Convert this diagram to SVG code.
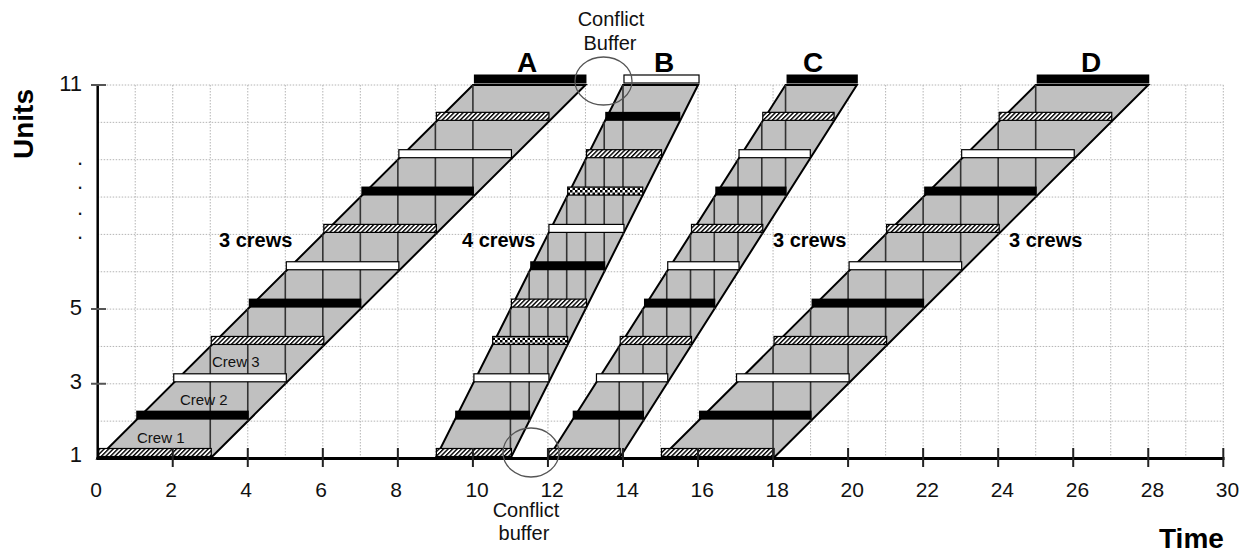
<svg xmlns="http://www.w3.org/2000/svg" width="1254" height="552" viewBox="0 0 1254 552">
<defs>
<pattern id="hatch" patternUnits="userSpaceOnUse" width="3.2" height="3.2" patternTransform="rotate(45)">
<rect width="3.2" height="3.2" fill="#fff"/>
<rect width="1.4" height="3.2" fill="#000"/>
</pattern>
<pattern id="check" patternUnits="userSpaceOnUse" width="5" height="5">
<rect width="5" height="5" fill="#fff"/>
<rect x="0" y="0" width="2.5" height="2.5" fill="#000"/>
<rect x="2.5" y="2.5" width="2.5" height="2.5" fill="#000"/>
</pattern>
<style>
.grid{fill:none;stroke:#b4b4b4;stroke-width:1;stroke-dasharray:1.5 1.5}
.pg{fill:#c0c0c0;stroke:#000;stroke-width:2;stroke-linejoin:miter}
.vl{fill:none;stroke:#333;stroke-width:1.6}
.h{fill:url(#hatch);stroke:#000;stroke-width:1.2}
.c{fill:url(#check);stroke:#000;stroke-width:1.2}
.w{fill:#fff;stroke:#000;stroke-width:1.2}
.b{fill:#000}
.ax{fill:none;stroke:#000;stroke-linecap:butt}
.tk{fill:none;stroke:#222;stroke-width:2}
.ytk{fill:none;stroke:#555;stroke-width:2}
.num{font-family:"Liberation Sans",Arial,sans-serif;font-size:21px;fill:#111}
.ynum{font-family:"Liberation Sans",Arial,sans-serif;font-size:22px;fill:#111}
.big{font-family:"Liberation Sans",Arial,sans-serif;font-size:28px;font-weight:bold;fill:#000}
.crews{font-family:"Liberation Sans",Arial,sans-serif;font-size:20px;font-weight:bold;fill:#000}
.crew{font-family:"Liberation Sans",Arial,sans-serif;font-size:15px;fill:#111}
.note{font-family:"Liberation Sans",Arial,sans-serif;font-size:20px;fill:#111}
.circ{fill:none;stroke:#555;stroke-width:1.3}
</style>
</defs>
<rect width="1254" height="552" fill="#fff"/>

<g id="grid">
<path class="grid" d="M135.22 85V458.5M172.74 85V458.5M210.26 85V458.5M247.78 85V458.5M285.3 85V458.5M322.82 85V458.5M360.34 85V458.5M397.86 85V458.5M435.38 85V458.5M472.9 85V458.5M510.42 85V458.5M547.94 85V458.5M585.46 85V458.5M622.98 85V458.5M660.5 85V458.5M698.02 85V458.5M735.54 85V458.5M773.06 85V458.5M810.58 85V458.5M848.1 85V458.5M885.62 85V458.5M923.14 85V458.5M960.66 85V458.5M998.18 85V458.5M1035.7 85V458.5M1073.22 85V458.5M1110.74 85V458.5M1148.26 85V458.5M1185.78 85V458.5M1223.3 85V458.5"/>
<path class="grid" d="M97.7 421.15H1223.3M97.7 383.8H1223.3M97.7 346.45H1223.3M97.7 309.1H1223.3M97.7 271.75H1223.3M97.7 234.4H1223.3M97.7 197.05H1223.3M97.7 159.7H1223.3M97.7 122.35H1223.3M97.7 85H1223.3"/>
</g>

<g id="activity-A">
<polygon class="pg" points="97.7,458.5 210.26,458.5 585.46,85 472.9,85"/>
<path class="vl" d="M210.26 458.5V346.45M247.78 421.15V309.1M285.3 383.8V271.75M322.82 346.45V234.4M360.34 309.1V197.05M397.86 271.75V159.7M435.38 234.4V122.35M472.9 197.05V85"/>
<rect class="h" x="98.7" y="448.5" width="112.56" height="8"/>
<rect class="b" x="136.22" y="410.65" width="112.56" height="9"/>
<rect class="w" x="173.74" y="373.8" width="112.56" height="8"/>
<rect class="h" x="211.26" y="336.45" width="112.56" height="8"/>
<rect class="b" x="248.78" y="298.6" width="112.56" height="9"/>
<rect class="w" x="286.3" y="261.75" width="112.56" height="8"/>
<rect class="h" x="323.82" y="224.4" width="112.56" height="8"/>
<rect class="b" x="361.34" y="186.55" width="112.56" height="9"/>
<rect class="w" x="398.86" y="149.7" width="112.56" height="8"/>
<rect class="h" x="436.38" y="112.35" width="112.56" height="8"/>
<rect class="b" x="473.9" y="74.5" width="112.56" height="9"/>
</g>

<g id="activity-B">
<polygon class="pg" points="435.38,458.5 510.42,458.5 698.02,85 622.98,85"/>
<path class="vl" d="M510.42 458.5V309.1M529.18 421.15V271.75M547.94 383.8V234.4M566.7 346.45V197.05M585.46 309.1V159.7M604.22 271.75V122.35M622.98 234.4V85"/>
<rect class="h" x="436.38" y="448.5" width="75.04" height="8"/>
<rect class="b" x="455.14" y="410.65" width="75.04" height="9"/>
<rect class="w" x="473.9" y="373.8" width="75.04" height="8"/>
<rect class="c" x="492.66" y="336.45" width="75.04" height="8"/>
<rect class="h" x="511.42" y="299.1" width="75.04" height="8"/>
<rect class="b" x="530.18" y="261.25" width="75.04" height="9"/>
<rect class="w" x="548.94" y="224.4" width="75.04" height="8"/>
<rect class="c" x="567.7" y="187.05" width="75.04" height="8"/>
<rect class="h" x="586.46" y="149.7" width="75.04" height="8"/>
<rect class="b" x="605.22" y="111.85" width="75.04" height="9"/>
<rect class="w" x="623.98" y="75" width="75.04" height="8"/>
</g>

<g id="activity-C">
<polygon class="pg" points="547.94,458.5 619.23,458.5 856.83,85 785.54,85"/>
<path class="vl" d="M619.23 458.5V346.45M642.99 421.15V309.1M666.75 383.8V271.75M690.51 346.45V234.4M714.27 309.1V197.05M738.03 271.75V159.7M761.79 234.4V122.35M785.55 197.05V85"/>
<rect class="h" x="548.94" y="448.5" width="71.29" height="8"/>
<rect class="b" x="572.7" y="410.65" width="71.29" height="9"/>
<rect class="w" x="596.46" y="373.8" width="71.29" height="8"/>
<rect class="h" x="620.22" y="336.45" width="71.29" height="8"/>
<rect class="b" x="643.98" y="298.6" width="71.29" height="9"/>
<rect class="w" x="667.74" y="261.75" width="71.29" height="8"/>
<rect class="h" x="691.5" y="224.4" width="71.29" height="8"/>
<rect class="b" x="715.26" y="186.55" width="71.29" height="9"/>
<rect class="w" x="739.02" y="149.7" width="71.29" height="8"/>
<rect class="h" x="762.78" y="112.35" width="71.29" height="8"/>
<rect class="b" x="786.54" y="74.5" width="71.29" height="9"/>
</g>

<g id="activity-D">
<polygon class="pg" points="660.5,458.5 773.06,458.5 1148.26,85 1035.7,85"/>
<path class="vl" d="M773.06 458.5V346.45M810.58 421.15V309.1M848.1 383.8V271.75M885.62 346.45V234.4M923.14 309.1V197.05M960.66 271.75V159.7M998.18 234.4V122.35M1035.7 197.05V85"/>
<rect class="h" x="661.5" y="448.5" width="112.56" height="8"/>
<rect class="b" x="699.02" y="410.65" width="112.56" height="9"/>
<rect class="w" x="736.54" y="373.8" width="112.56" height="8"/>
<rect class="h" x="774.06" y="336.45" width="112.56" height="8"/>
<rect class="b" x="811.58" y="298.6" width="112.56" height="9"/>
<rect class="w" x="849.1" y="261.75" width="112.56" height="8"/>
<rect class="h" x="886.62" y="224.4" width="112.56" height="8"/>
<rect class="b" x="924.14" y="186.55" width="112.56" height="9"/>
<rect class="w" x="961.66" y="149.7" width="112.56" height="8"/>
<rect class="h" x="999.18" y="112.35" width="112.56" height="8"/>
<rect class="b" x="1036.7" y="74.5" width="112.56" height="9"/>
</g>

<g id="axes">
<path class="ax" stroke-width="2.5" d="M97.7 84V459"/>
<path class="ax" stroke-width="3" d="M96.5 458.5H1224.5"/>
<path class="tk" d="M172.74 448V467M247.78 448V467M322.82 448V467M397.86 448V467M472.9 448V467M547.94 448V467M622.98 448V467M698.02 448V467M773.06 448V467M848.1 448V467M923.14 448V467M998.18 448V467M1073.22 448V467M1148.26 448V467M1223.3 448V467"/>
<path class="ytk" d="M91 85H106M91 309.1H106M91 383.8H106"/>
</g>

<g id="axis-labels">
<text class="num" x="90.2" y="497">0</text>
<text class="num" x="165.24" y="497">2</text>
<text class="num" x="240.28" y="497">4</text>
<text class="num" x="315.32" y="497">6</text>
<text class="num" x="390.36" y="497">8</text>
<text class="num" x="465.4" y="497">10</text>
<text class="num" x="540.44" y="497">12</text>
<text class="num" x="615.48" y="497">14</text>
<text class="num" x="690.52" y="497">16</text>
<text class="num" x="765.56" y="497">18</text>
<text class="num" x="840.6" y="497">20</text>
<text class="num" x="915.64" y="497">22</text>
<text class="num" x="990.68" y="497">24</text>
<text class="num" x="1065.72" y="497">26</text>
<text class="num" x="1140.76" y="497">28</text>
<text class="num" x="1215.8" y="497">30</text>
<text class="ynum" x="82" y="91" text-anchor="end">11</text>
<text class="ynum" x="82" y="315" text-anchor="end">5</text>
<text class="ynum" x="82" y="389" text-anchor="end">3</text>
<text class="ynum" x="82" y="462" text-anchor="end">1</text>
<text class="ynum" x="80" y="165" text-anchor="middle">.</text>
<text class="ynum" x="80" y="188.5" text-anchor="middle">.</text>
<text class="ynum" x="80" y="214.5" text-anchor="middle">.</text>
<text class="ynum" x="80" y="238.5" text-anchor="middle">.</text>
<text class="big" transform="translate(33,124) rotate(-90)" text-anchor="middle" font-size="30">Units</text>
<text class="big" x="1159" y="548">Time</text>
</g>

<g id="activity-labels">
<text class="big" x="527" y="72" text-anchor="middle">A</text>
<text class="big" x="664" y="72" text-anchor="middle">B</text>
<text class="big" x="813" y="72" text-anchor="middle">C</text>
<text class="big" x="1091" y="72" text-anchor="middle">D</text>
<text class="crews" x="219" y="247">3 crews</text>
<text class="crews" x="462" y="247">4 crews</text>
<text class="crews" x="773" y="247">3 crews</text>
<text class="crews" x="1009" y="247">3 crews</text>
<text class="crew" x="137" y="443">Crew 1</text>
<text class="crew" x="180" y="405">Crew 2</text>
<text class="crew" x="212" y="367">Crew 3</text>
</g>

<g id="conflict-top">
<ellipse class="circ" cx="603.5" cy="81" rx="28.5" ry="24"/>
<text class="note" x="611" y="26" text-anchor="middle">Conflict</text>
<text class="note" x="610" y="50" text-anchor="middle">Buffer</text>
</g>
<g id="conflict-bottom">
<ellipse class="circ" cx="531" cy="452.5" rx="28" ry="24.5"/>
<text class="note" x="526" y="517" text-anchor="middle">Conflict</text>
<text class="note" x="524" y="540" text-anchor="middle">buffer</text>
</g>
</svg>
